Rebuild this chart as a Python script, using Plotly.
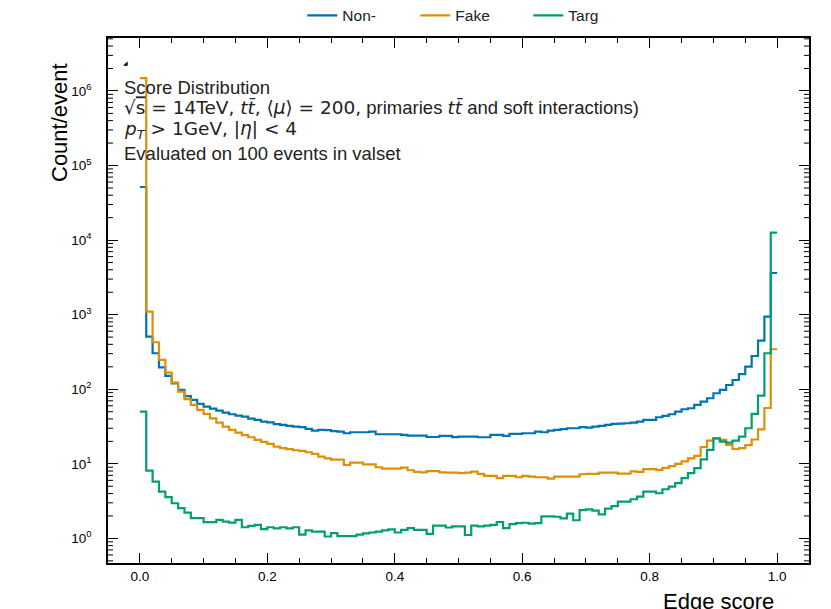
import numpy as np
import plotly.graph_objects as go

# ---------------- data ----------------
N_BINS = 100
BIN_LO, BIN_HI = 0.0, 1.0

SERIES_NAMES = ["Non-", "Fake", "Targ"]

NON_TARGET = [
    51500, 507, 304, 197, 151, 120, 98, 81, 72, 63.5,
    58.4, 55, 51.6, 48.5, 46.2, 44.3, 43, 40.4, 38.8, 36.8,
    36, 34, 33.2, 32.2, 31.5, 31.0, 29.5, 27.9, 28.5, 28.3,
    27.5, 27.0, 25.7, 26.5, 26.5, 26.5, 27.0, 24.9, 24.9, 24.9,
    24.9, 24.5, 23.9, 23.9, 23.9, 22.9, 22.9, 23.7, 23.7, 22.8,
    23.2, 23.2, 23.2, 22.7, 22.7, 24.4, 24.4, 23.7, 25.2, 25.2,
    25.7, 25.7, 27.1, 26.5, 27.9, 28.5, 29.1, 30.0, 30.0, 31.0,
    30.5, 31.5, 32.2, 33.3, 34.3, 34.5, 35.0, 35.7, 36.8, 38.8,
    38.8, 42.1, 43.9, 46.2, 50.1, 53.9, 55.6, 61.6, 68.3, 75.7,
    88.3, 97.9, 114, 133, 159, 201, 279, 448, 940, 3620,
]

FAKE = [
    1490000, 1100, 427, 247, 167, 123, 93, 73.5, 61.6, 52.8,
    46.7, 40.8, 35.7, 31.5, 28.5, 26.2, 24.2, 22.7, 20.9, 19.7,
    18.5, 17.0, 16.2, 15.7, 15.2, 14.9, 14.3, 13.6, 12.5, 11.8,
    11.4, 11.4, 9.67, 10.4, 10.4, 9.8, 9.8, 9.0, 8.6, 8.6,
    8.6, 8.9, 8.2, 7.8, 7.7, 8.0, 8.0, 7.7, 7.6, 7.6,
    7.48, 7.62, 7.87, 7.32, 6.89, 6.89, 6.41, 6.89, 6.89, 6.61,
    6.89, 6.74, 6.61, 6.61, 6.34, 6.74, 6.74, 6.74, 6.74, 7.25,
    7.32, 7.32, 7.62, 7.62, 7.62, 7.4, 7.4, 7.9, 7.8, 8.5,
    8.5, 8.3, 8.8, 9.3, 10.0, 10.8, 11.8, 12.8, 16.8, 20.5,
    22.0, 20.9, 18.0, 15.8, 16.2, 17.8, 21.2, 29.0, 56.0, 344,
]

TARGET = [
    50, 8.1, 5.77, 4.24, 3.57, 2.96, 2.54, 2.22, 1.87, 1.87,
    1.65, 1.65, 1.77, 1.68, 1.63, 1.77, 1.41, 1.47, 1.52, 1.33,
    1.41, 1.36, 1.41, 1.36, 1.41, 1.12, 1.28, 1.23, 1.23, 1.06,
    1.18, 1.07, 1.07, 1.07, 1.12, 1.17, 1.20, 1.23, 1.28, 1.32,
    1.20, 1.30, 1.37, 1.30, 1.30, 1.15, 1.48, 1.48, 1.40, 1.45,
    1.45, 1.11, 1.48, 1.45, 1.48, 1.52, 1.66, 1.37, 1.55, 1.60,
    1.62, 1.58, 1.60, 1.97, 1.97, 1.95, 1.85, 2.15, 1.75, 2.40,
    2.45, 2.35, 2.10, 2.50, 2.70, 3.11, 3.11, 3.35, 3.64, 4.25,
    4.25, 4.03, 4.56, 4.94, 5.50, 6.41, 7.48, 8.73, 11.5, 15.4,
    22.0, 19.9, 19.2, 20.5, 23.2, 30.0, 46.7, 82.0, 304, 12570,
]

X_TICK_VALUES = [0.0, 0.2, 0.4, 0.6, 0.8, 1.0]
X_TICK_LABELS = ["0.0", "0.2", "0.4", "0.6", "0.8", "1.0"]
Y_TICK_VALUES = [1, 10, 100, 1e3, 1e4, 1e5, 1e6]
Y_TICK_LABELS = ["10<sup>0</sup>", "10<sup>1</sup>", "10<sup>2</sup>", "10<sup>3</sup>",
                 "10<sup>4</sup>", "10<sup>5</sup>", "10<sup>6</sup>"]

TEXT_LINES = [
    "Score Distribution",
    "<span style='font-family:DejaVu Sans'>√<span style='text-decoration:overline'>s</span> = 14TeV, "
    "<i>t</i><i>t̄</i>, ⟨<i>μ</i>⟩ = 200,</span> primaries "
    "<span style='font-family:DejaVu Sans'><i>t</i><i>t̄</i></span> and soft interactions)",
    "<span style='font-family:DejaVu Sans'><i>p</i><sub><i>T</i></sub> > 1GeV, |<i>η</i>| < 4</span>",
    "Evaluated on 100 events in valset",
]

COLORS = ["#0173B2", "#DE8F05", "#029E73"]

# ---------------- figure ----------------
edges = np.linspace(BIN_LO, BIN_HI, N_BINS + 1)

fig = go.Figure()
for name, vals, col in zip(SERIES_NAMES, [NON_TARGET, FAKE, TARGET], COLORS):
    v = np.asarray(vals, dtype=float)
    fig.add_trace(go.Scatter(
        x=edges, y=np.append(v, v[-1]), mode="lines", name=name,
        line=dict(shape="hv", color=col, width=2.2),
    ))

W, H = 831, 609
ML, MR, MT, MB = 108, 22, 38, 46
Y_RANGE = [-0.33, 6.71]

tick_font = dict(family="Liberation Sans, Arial, sans-serif", size=13.5, color="black")

fig.update_layout(
    width=W, height=H,
    margin=dict(l=ML, r=MR, t=MT, b=MB, pad=0, autoexpand=False),
    paper_bgcolor="white", plot_bgcolor="white",
    font=dict(family="Liberation Sans, Arial, sans-serif", color="black"),
    showlegend=True,
    legend=dict(orientation="h", x=0.519, xanchor="center", y=1.01, yanchor="bottom",
                font=dict(size=15.5, color="#222"), bgcolor="rgba(0,0,0,0)",
                itemwidth=30, entrywidth=68, entrywidthmode="pixels"),
    xaxis=dict(
        range=[-0.05, 1.05], tickmode="array", tickvals=X_TICK_VALUES, ticktext=X_TICK_LABELS,
        ticks="inside", ticklen=10, tickwidth=1.2, tickcolor="black", mirror="allticks",
        showline=True, linecolor="black", linewidth=1.5, showgrid=False, zeroline=False,
        tickfont=tick_font, ticklabelstandoff=0,
        minor=dict(ticks="inside", ticklen=5, tickwidth=1, tickcolor="black", dtick=0.05, showgrid=False),
    ),
    yaxis=dict(
        type="log", range=Y_RANGE, tickmode="array", tickvals=Y_TICK_VALUES, ticktext=Y_TICK_LABELS,
        ticks="inside", ticklen=10, tickwidth=1.2, tickcolor="black", mirror="allticks",
        showline=True, linecolor="black", linewidth=1.5, showgrid=False, zeroline=False,
        tickfont=tick_font, ticklabelstandoff=12,
    ),
)

pw = W - ML - MR
ph = H - MT - MB

# log minor ticks on both vertical spines (axis decoration)
for e in range(-1, 7):
    for k in range(2, 10):
        val = k * 10.0 ** e
        lv = np.log10(val)
        if lv < Y_RANGE[0] or lv > Y_RANGE[1]:
            continue
        for x0, x1 in [(0, 5 / pw), (1 - 5 / pw, 1)]:
            fig.add_shape(type="line", xref="paper", yref="y", x0=x0, x1=x1, y0=val, y1=val,
                          line=dict(color="black", width=1))


def px(x):
    return (x - ML) / pw


def py(y):
    return (H - MB - y) / ph


line_y = [87, 108, 130, 153]
for txt, yy in zip(TEXT_LINES, line_y):
    fig.add_annotation(text=txt, xref="paper", yref="paper", x=px(122), y=py(yy),
                       xanchor="left", yanchor="middle", showarrow=False,
                       font=dict(size=18.5, color="#222"))

fig.add_annotation(text="◢", xref="paper", yref="paper", x=px(125), y=py(63),
                   xanchor="center", yanchor="middle", showarrow=False,
                   font=dict(size=6, color="black"))

fig.add_annotation(text="Count/event", xref="paper", yref="paper", x=px(60), y=py(123),
                   xanchor="center", yanchor="middle", textangle=-90, showarrow=False,
                   font=dict(size=22, color="black"))
fig.add_annotation(text="Edge score", xref="paper", yref="paper", x=px(776), y=py(601),
                   xanchor="right", yanchor="middle", showarrow=False,
                   font=dict(size=22, color="black"))

fig.write_html("out.html", config={"displayModeBar": False},
               post_script="document.body.style.margin='0px';")
